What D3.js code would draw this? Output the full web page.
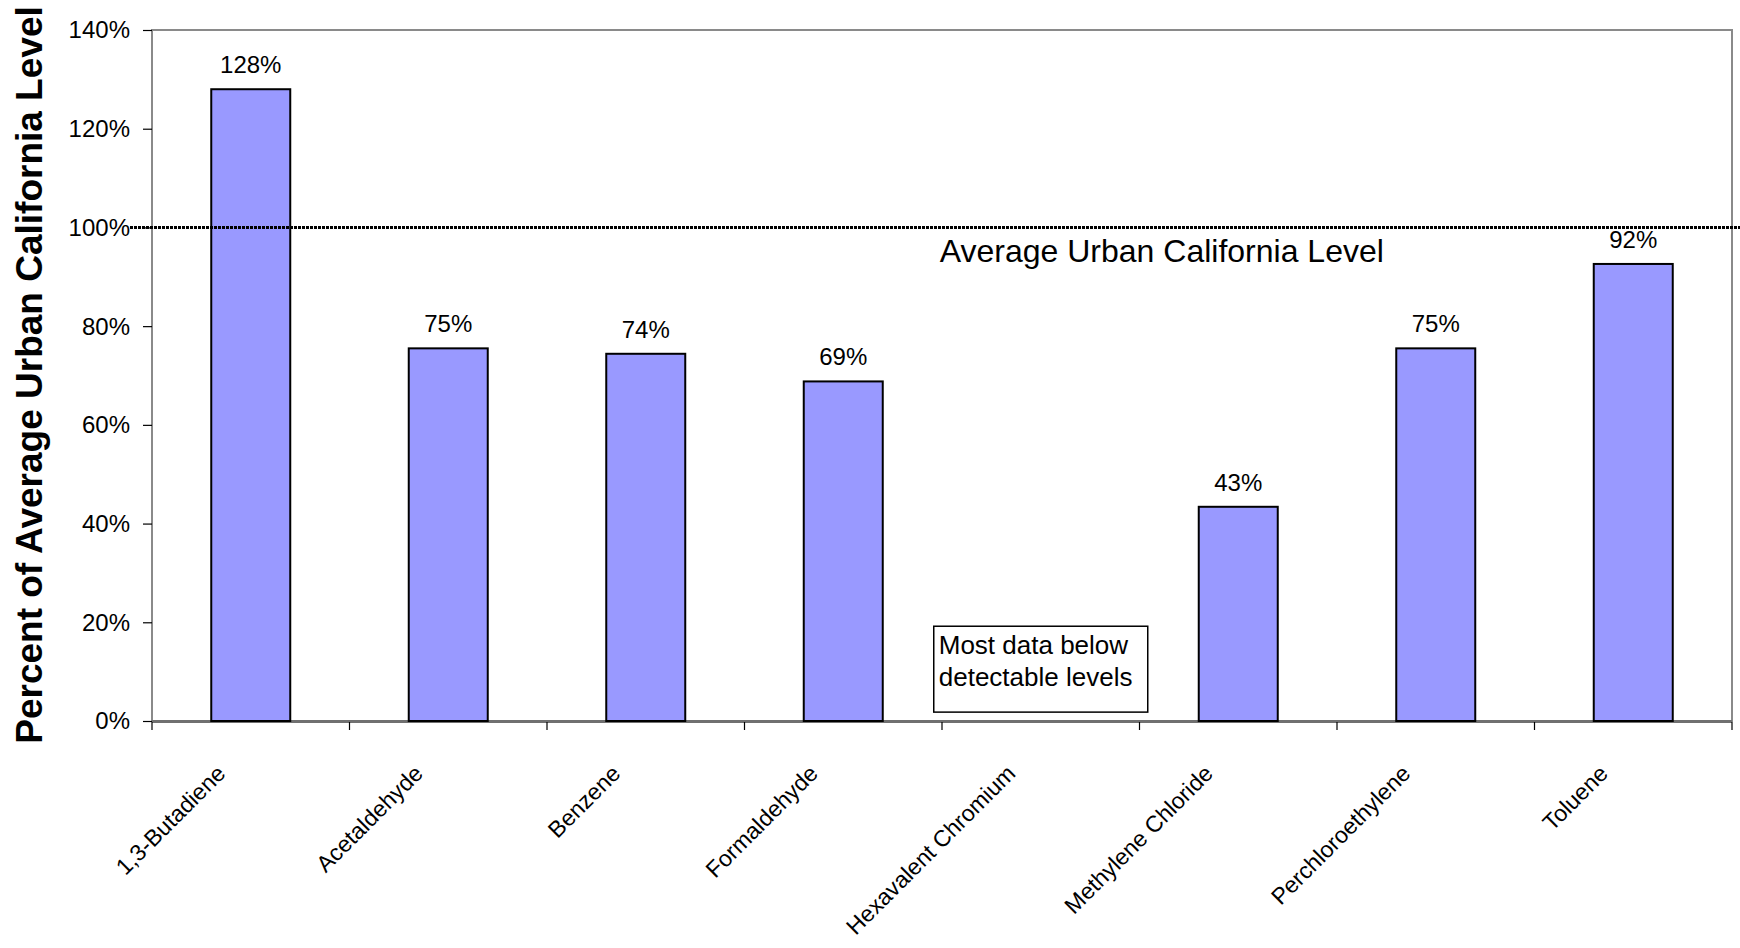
<!DOCTYPE html>
<html>
<head>
<meta charset="utf-8">
<script src="https://cdn.jsdelivr.net/npm/d3@7"></script>
<style>
  body { margin: 0; background: #fff; }
  text { font-family: "Liberation Sans", Arial, sans-serif; fill: #000; }
</style>
</head>
<body>
<div id="chart"></div>
<script>
// chart data
var categories = ['1,3-Butadiene', 'Acetaldehyde', 'Benzene', 'Formaldehyde',
  'Hexavalent Chromium', 'Methylene Chloride', 'Perchloroethylene', 'Toluene'];
var percentValues = [128, 75.5, 74.4, 68.8, null, 43.4, 75.5, 92.6];
var valueLabels = ['128%', '75%', '74%', '69%', '', '43%', '75%', '92%'];
var yTicks = [0, 20, 40, 60, 80, 100, 120, 140];
var referenceLevel = 100;
var referenceLabel = 'Average Urban California Level';
var noteCategory = 'Hexavalent Chromium';
var noteLines = ['Most data below', 'detectable levels'];
var yTitle = 'Percent of Average Urban California Level';

var W = 1740, H = 948;
var margin = { top: 30, right: 8, bottom: 227, left: 152 };
var width = W - margin.left - margin.right;
var height = H - margin.top - margin.bottom;

var svg = d3.select('#chart').append('svg')
    .attr('width', W)
    .attr('height', H);

var g = svg.append('g')
    .attr('transform', 'translate(' + margin.left + ',' + margin.top + ')');

var x = d3.scaleBand()
    .domain(categories)
    .range([0, width])
    .paddingInner(0.6)
    .paddingOuter(0.3);

var y = d3.scaleLinear()
    .domain([0, 140])
    .range([height, 0]);

// plot frame
g.append('rect')
    .attr('x', 0).attr('y', 0)
    .attr('width', width).attr('height', height)
    .attr('fill', 'none')
    .attr('stroke', '#8a8a8a')
    .attr('stroke-width', 2);

// y axis
var yAxis = g.append('g')
    .call(d3.axisLeft(y).tickValues(yTicks).tickFormat(function(d) { return d + '%'; }).tickSize(9).tickPadding(13));
yAxis.select('.domain').remove();
yAxis.selectAll('line').attr('stroke', '#000').attr('stroke-width', 1.2);
yAxis.selectAll('text')
    .style('font-size', '24px')
    .attr('dy', '0.33em');

// x axis line and ticks on category boundaries
g.append('line')
    .attr('x1', 0).attr('x2', width)
    .attr('y1', height + 0.5).attr('y2', height + 0.5)
    .attr('stroke', '#707070')
    .attr('stroke-width', 3);

var step = x.step();
var boundaries = categories.map(function(c) { return x(c) - step * 0.3; });
boundaries.push(width);
g.selectAll('.xtick').data(boundaries)
  .enter().append('line')
    .attr('class', 'xtick')
    .attr('x1', function(d) { return d; })
    .attr('x2', function(d) { return d; })
    .attr('y1', height + 1)
    .attr('y2', height + 9)
    .attr('stroke', '#000')
    .attr('stroke-width', 1.2);

// category labels
g.selectAll('.xlabel').data(categories)
  .enter().append('text')
    .attr('class', 'xlabel')
    .attr('text-anchor', 'end')
    .style('font-size', '23px')
    .attr('transform', function(d) {
        return 'translate(' + (x(d) + x.bandwidth() / 2 - 24) + ',' + (height + 54) + ') rotate(-45)';
    })
    .text(function(d) { return d; });

// bars
var barData = categories.map(function(c, i) {
    return { cat: c, value: percentValues[i], label: valueLabels[i] };
}).filter(function(d) { return d.value !== null; });

g.selectAll('.bar').data(barData)
  .enter().append('rect')
    .attr('class', 'bar')
    .attr('x', function(d) { return x(d.cat); })
    .attr('y', function(d) { return y(d.value); })
    .attr('width', x.bandwidth())
    .attr('height', function(d) { return height - y(d.value); })
    .attr('fill', '#9999ff')
    .attr('stroke', '#000')
    .attr('stroke-width', 2);

g.selectAll('.vlabel').data(barData)
  .enter().append('text')
    .attr('class', 'vlabel')
    .attr('text-anchor', 'middle')
    .style('font-size', '24px')
    .attr('x', function(d) { return x(d.cat) + x.bandwidth() / 2; })
    .attr('y', function(d) { return y(d.value) - 16; })
    .text(function(d) { return d.label; });

// reference line at 100%
g.append('line')
    .attr('x1', -22).attr('x2', W - margin.left)
    .attr('y1', y(referenceLevel)).attr('y2', y(referenceLevel))
    .attr('stroke', '#000')
    .attr('stroke-width', 3)
    .attr('stroke-dasharray', '3,1');

var noteCx = x(noteCategory) + x.bandwidth() / 2;

g.append('text')
    .attr('x', noteCx - 101)
    .attr('y', y(referenceLevel) + 35)
    .style('font-size', '32px')
    .text(referenceLabel);

// note box for Hexavalent Chromium
var note = g.append('g')
    .attr('transform', 'translate(' + (noteCx - 107) + ',' + y(19.2) + ')');
note.append('rect')
    .attr('width', 214)
    .attr('height', y(1.8) - y(19.2))
    .attr('fill', '#fff')
    .attr('stroke', '#000')
    .attr('stroke-width', 1.5);
note.selectAll('text').data(noteLines)
  .enter().append('text')
    .attr('x', 5)
    .attr('y', function(d, i) { return 28 + i * 32; })
    .style('font-size', '26px')
    .text(function(d) { return d; });

// y axis title
svg.append('text')
    .attr('transform', 'translate(42,375) rotate(-90)')
    .attr('text-anchor', 'middle')
    .style('font-size', '37px')
    .style('font-weight', 'bold')
    .text(yTitle);
</script>
</body>
</html>
